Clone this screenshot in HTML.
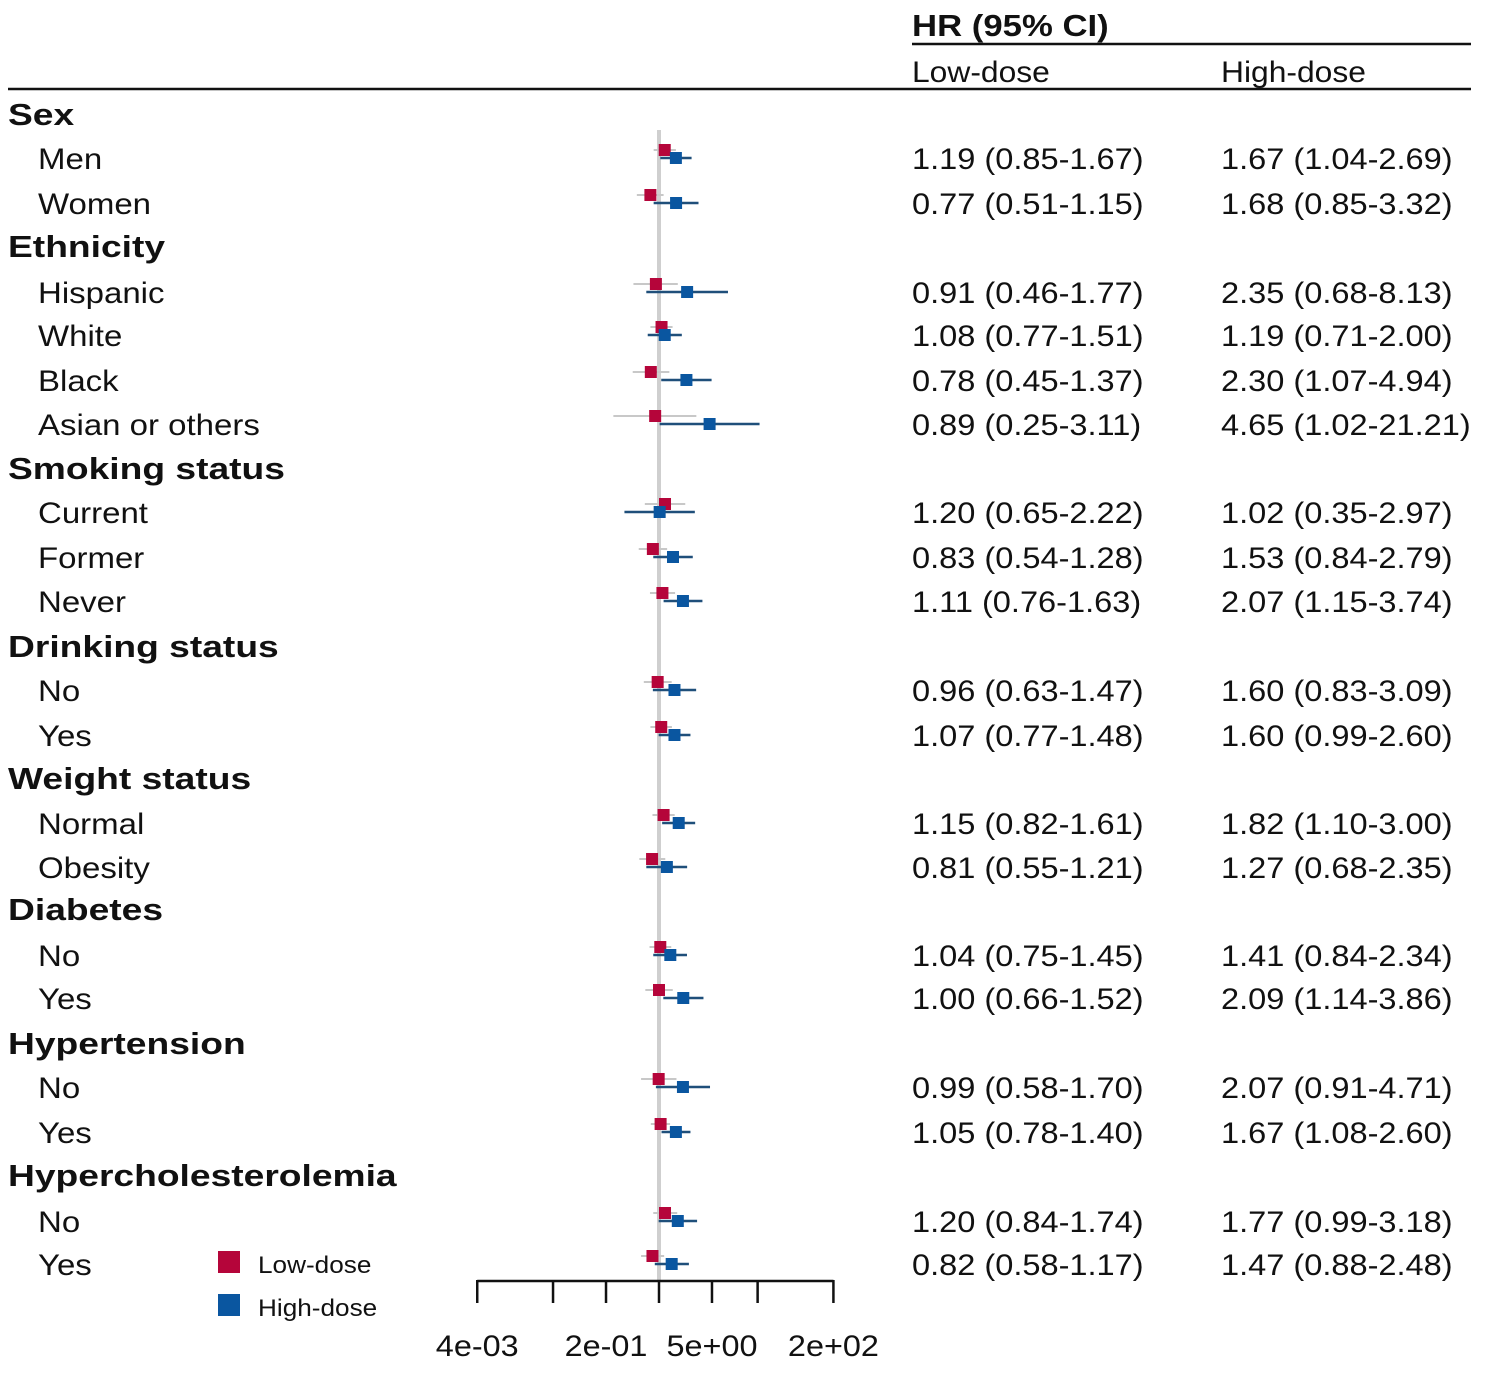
<!DOCTYPE html>
<html><head><meta charset="utf-8"><style>
html,body{margin:0;padding:0;background:#fff;}
svg{display:block;font-family:"Liberation Sans",sans-serif;}
</style></head><body>
<svg id="chart" width="1499" height="1382" viewBox="0 0 1499 1382" xmlns="http://www.w3.org/2000/svg">
<text transform="translate(912,36) scale(1.12,1)" font-size="31" font-weight="bold" fill="#111">HR (95% CI)</text>
<line x1="912" y1="44" x2="1471" y2="44" stroke="#111" stroke-width="2.5"/>
<text transform="translate(912,82) scale(1.06,1)" font-size="30" fill="#111">Low-dose</text>
<text transform="translate(1221,82) scale(1.06,1)" font-size="30" fill="#111">High-dose</text>
<line x1="8" y1="89" x2="1471" y2="89" stroke="#111" stroke-width="2.5"/>
<g id="rows"></g>
<g id="marks"></g>
<g id="axis"></g>
<rect x="218" y="1251" width="22" height="22" fill="#b5053a"/>
<text transform="translate(258,1273) scale(1.09,1)" font-size="24" fill="#111">Low-dose</text>
<rect x="218" y="1294" width="22" height="22" fill="#0a56a0"/>
<text transform="translate(258,1316) scale(1.09,1)" font-size="24" fill="#111">High-dose</text>
</svg>
<script>
const labels=["Sex","Men","Women","Ethnicity","Hispanic","White","Black","Asian or others","Smoking status","Current","Former","Never","Drinking status","No","Yes","Weight status","Normal","Obesity","Diabetes","No","Yes","Hypertension","No","Yes","Hypercholesterolemia","No","Yes"];
const isHeader=[1,0,0,1,0,0,0,0,1,0,0,0,1,0,0,1,0,0,1,0,0,1,0,0,1,0,0];
const rowY=[114,158,203,246,292,335,380,424,468,512,557,601,646,690,735,778,823,867,909,955,998,1043,1087,1132,1175,1221,1264];
const lowHR=[null,1.19,0.77,null,0.91,1.08,0.78,0.89,null,1.20,0.83,1.11,null,0.96,1.07,null,1.15,0.81,null,1.04,1.00,null,0.99,1.05,null,1.20,0.82];
const lowLo=[null,0.85,0.51,null,0.46,0.77,0.45,0.25,null,0.65,0.54,0.76,null,0.63,0.77,null,0.82,0.55,null,0.75,0.66,null,0.58,0.78,null,0.84,0.58];
const lowHi=[null,1.67,1.15,null,1.77,1.51,1.37,3.11,null,2.22,1.28,1.63,null,1.47,1.48,null,1.61,1.21,null,1.45,1.52,null,1.70,1.40,null,1.74,1.17];
const highHR=[null,1.67,1.68,null,2.35,1.19,2.30,4.65,null,1.02,1.53,2.07,null,1.60,1.60,null,1.82,1.27,null,1.41,2.09,null,2.07,1.67,null,1.77,1.47];
const highLo=[null,1.04,0.85,null,0.68,0.71,1.07,1.02,null,0.35,0.84,1.15,null,0.83,0.99,null,1.10,0.68,null,0.84,1.14,null,0.91,1.08,null,0.99,0.88];
const highHi=[null,2.69,3.32,null,8.13,2.00,4.94,21.21,null,2.97,2.79,3.74,null,3.09,2.60,null,3.00,2.35,null,2.34,3.86,null,4.71,2.60,null,3.18,2.48];
const tickVals=[0.004,0.04,0.2,1,5,20,200];
const tickLabels=["4e-03","","2e-01","","5e+00","","2e+02"];

const NS="http://www.w3.org/2000/svg";
const X0=659, PPD=75.8;
function xs(v){return X0+PPD*Math.log10(v);}
function mk(tag,attrs,parent,txt){const e=document.createElementNS(NS,tag);for(const k in attrs)e.setAttribute(k,attrs[k]);if(txt!==undefined)e.textContent=txt;parent.appendChild(e);return e;}
const fmt=v=>v.toFixed(2);
const rows=document.getElementById('rows'),marks=document.getElementById('marks'),axis=document.getElementById('axis');

const ref=mk('line',{x1:xs(1),x2:xs(1),y1:130,y2:1281,stroke:'#cfcfcf','stroke-width':4},marks);



labels.forEach((lab,i)=>{
  const y=rowY[i];
  const hx=isHeader[i]?8:38;
  const t=mk('text',{transform:`translate(${hx},${y+11}) scale(${isHeader[i]?1.2:1.1},1)`,'font-size':isHeader[i]?31:30,'font-weight':isHeader[i]?'bold':'normal',fill:'#111'},rows,lab);
  
  
  if(isHeader[i])return;
  const a=mk('text',{transform:`translate(912,${y+11}) scale(1.085,1)`,'font-size':30,fill:'#111'},rows,`${fmt(lowHR[i])} (${fmt(lowLo[i])}-${fmt(lowHi[i])})`);
  
  
  const b=mk('text',{transform:`translate(1221,${y+11}) scale(1.085,1)`,'font-size':30,fill:'#111'},rows,`${fmt(highHR[i])} (${fmt(highLo[i])}-${fmt(highHi[i])})`);
  
  
  const yl=y-8;
  const l1=mk('line',{x1:xs(lowLo[i]),x2:xs(lowHi[i]),y1:yl,y2:yl,stroke:'#c8c8c8','stroke-width':2},marks);
  
  
  const r1=mk('rect',{x:xs(lowHR[i])-6,y:yl-6,width:12,height:12,fill:'#b5053a'},marks);
  
  
  const yh=y;
  const l2=mk('line',{x1:xs(highLo[i]),x2:xs(highHi[i]),y1:yh,y2:yh,stroke:'#1f4f7a','stroke-width':2.5},marks);
  
  
  const r2=mk('rect',{x:xs(highHR[i])-6,y:yh-6,width:12,height:12,fill:'#0a56a0'},marks);
  
  
});

const ax=mk('line',{x1:xs(tickVals[0]),x2:xs(tickVals[tickVals.length-1]),y1:1281,y2:1281,stroke:'#111','stroke-width':2.5},axis);


tickVals.forEach((v,i)=>{
  const tk=mk('line',{x1:xs(v),x2:xs(v),y1:1280,y2:1303,stroke:'#111','stroke-width':2.5},axis);
  
  
  if(tickLabels[i]){
    const tl=mk('text',{transform:`translate(${xs(v)},1356) scale(1.08,1)`,'font-size':30,'text-anchor':'middle',fill:'#111'},axis,tickLabels[i]);
    
    
  }
});
</script>
</body></html>
